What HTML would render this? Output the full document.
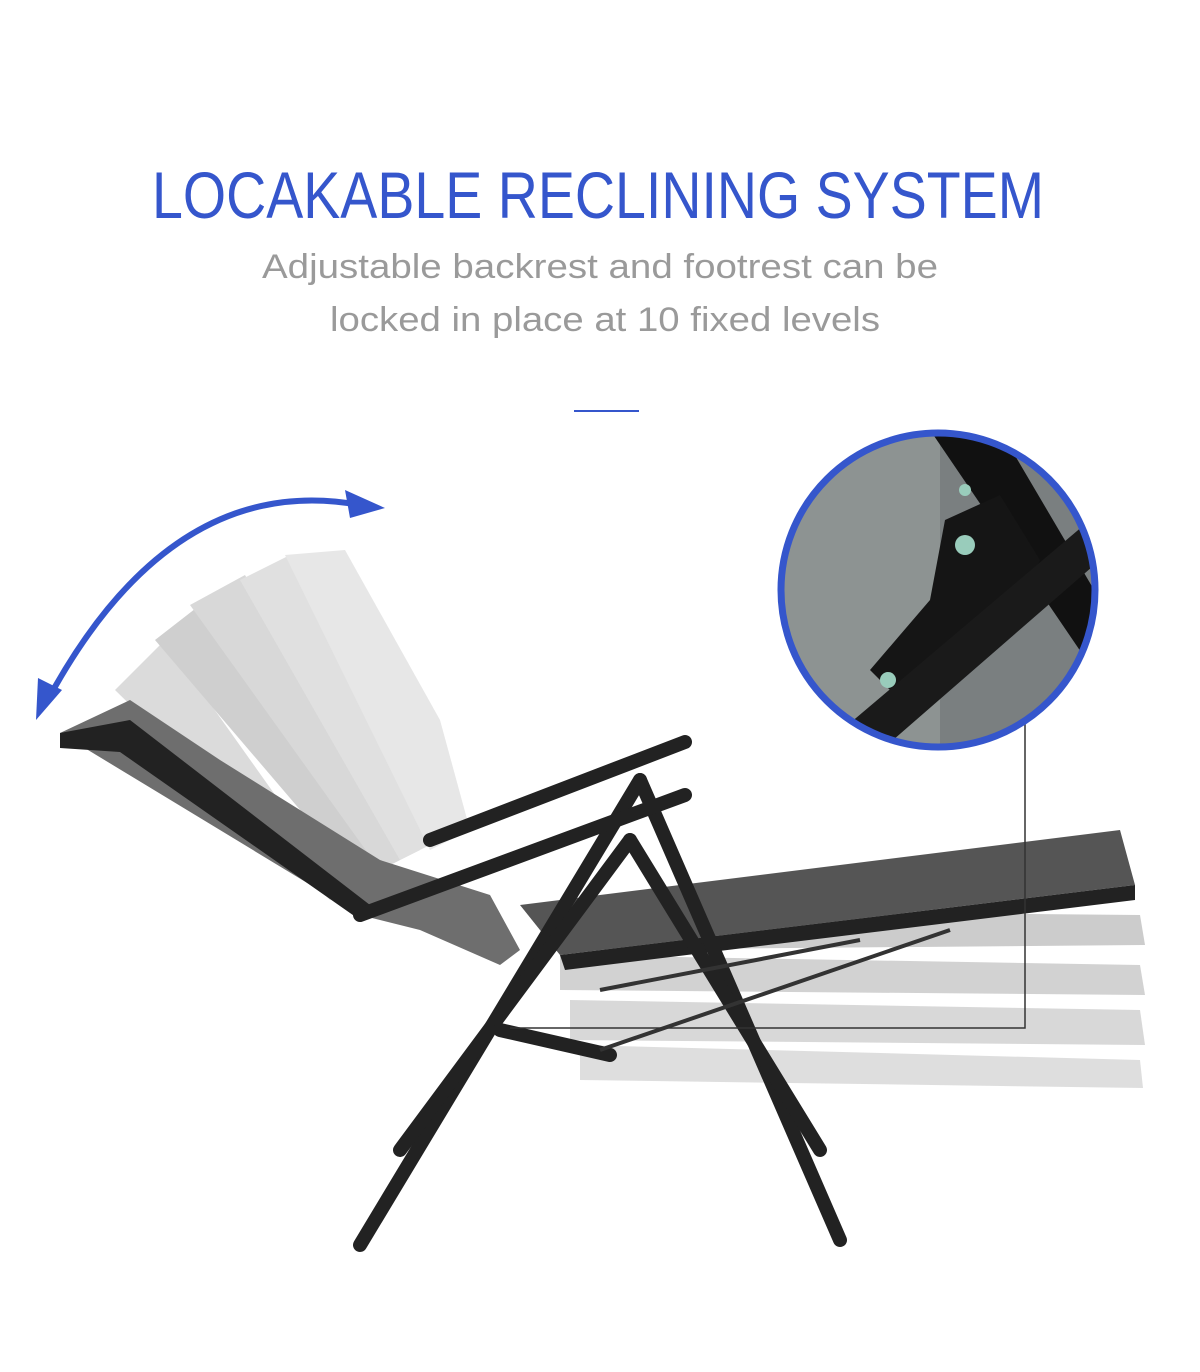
<!DOCTYPE html>
<html><head><meta charset="utf-8"><style>
html,body{margin:0;padding:0;background:#fff;}
svg{display:block;}
</style></head><body>
<svg width="1200" height="1372" viewBox="0 0 1200 1372" xmlns="http://www.w3.org/2000/svg">
<rect width="1200" height="1372" fill="#fff"/>
<text x="598" y="218" text-anchor="middle" font-family="Liberation Sans, sans-serif" font-size="66" fill="#3556cc" textLength="892" lengthAdjust="spacingAndGlyphs">LOCAKABLE RECLINING SYSTEM</text>
<text x="600" y="278" text-anchor="middle" font-family="Liberation Sans, sans-serif" font-size="34" fill="#9a9a9a" textLength="676" lengthAdjust="spacingAndGlyphs">Adjustable backrest and footrest can be</text>
<text x="605" y="331" text-anchor="middle" font-family="Liberation Sans, sans-serif" font-size="34" fill="#9a9a9a" textLength="550" lengthAdjust="spacingAndGlyphs">locked in place at 10 fixed levels</text>
<rect x="574" y="410" width="65" height="2" fill="#3556cc"/>

<!-- arrow -->
<path d="M45,705 Q170,470 360,505" fill="none" stroke="#3556cc" stroke-width="6"/>
<polygon points="385,508 345,490 350,518" fill="#3556cc"/>
<polygon points="36,720 38,678 62,690" fill="#3556cc"/>

<!-- ghost backrests -->
<g fill="#ccc" opacity="0.7">
<path d="M115,690 L165,640 L300,830 L370,870 L330,900 Z"/>
<path d="M155,640 L200,605 L330,800 L400,860 L360,880 Z" fill="#bbb"/>
<path d="M190,605 L245,575 L360,780 L420,850 L380,870 Z" fill="#c8c8c8"/>
<path d="M240,580 L290,555 L400,760 L440,840 L400,860 Z" fill="#d4d4d4"/>
<path d="M285,555 L345,550 L440,720 L470,830 L430,850 Z" fill="#ddd"/>
</g>
<!-- footrest ghosts -->
<g fill="#bbb" opacity="0.75">
<path d="M560,910 L1140,915 L1145,945 L560,950 Z"/>
<path d="M560,955 L1140,965 L1145,995 L560,990 Z" fill="#c4c4c4"/>
<path d="M570,1000 L1140,1010 L1145,1045 L570,1040 Z" fill="#ccc"/>
<path d="M580,1045 L1140,1060 L1143,1088 L580,1080 Z" fill="#d4d4d4"/>
</g>

<!-- main seat/back -->
<path d="M60,733 L130,700 L220,760 L380,860 L490,895 L520,950 L500,965 L420,930 L360,915 Z" fill="#6e6e6e"/>
<path d="M60,733 L60,748 L120,752 L360,920 L370,905 L130,720 Z" fill="#222"/>
<!-- footrest -->
<path d="M520,905 L1120,830 L1135,885 L560,955 Z" fill="#555"/>
<path d="M560,955 L1135,885 L1135,900 L565,970 Z" fill="#222"/>

<!-- frame -->
<g stroke="#222" stroke-width="14" stroke-linecap="round" fill="none">
<line x1="360" y1="1245" x2="640" y2="780"/>
<line x1="640" y1="780" x2="840" y2="1240"/>
<line x1="400" y1="1150" x2="630" y2="840"/>
<line x1="630" y1="840" x2="820" y2="1150"/>
<line x1="360" y1="915" x2="685" y2="795"/>
<line x1="430" y1="840" x2="685" y2="742"/>
<line x1="500" y1="1030" x2="610" y2="1055"/>
</g>
<line x1="600" y1="1050" x2="950" y2="930" stroke="#333" stroke-width="4"/>
<line x1="600" y1="990" x2="860" y2="940" stroke="#333" stroke-width="4"/>

<!-- callout lines -->
<polyline points="1025,720 1025,1028 510,1028" fill="none" stroke="#333" stroke-width="1.5"/>

<!-- detail circle -->
<defs><clipPath id="c"><circle cx="938" cy="590" r="157"/></clipPath></defs>
<g clip-path="url(#c)">
<rect x="780" y="430" width="320" height="320" fill="#7a7f80"/>
<rect x="780" y="430" width="160" height="320" fill="#8d9392"/>
<path d="M930,430 L1000,430 L1100,600 L1100,680 Z" fill="#111"/>
<path d="M945,520 L1000,495 L1040,560 L1000,640 L900,700 L870,670 L930,600 Z" fill="#151515"/>
<path d="M830,740 L1090,520 L1100,560 L870,760 Z" fill="#1a1a1a"/>
<circle cx="965" cy="545" r="10" fill="#9cb"/>
<circle cx="888" cy="680" r="8" fill="#9cb"/>
<circle cx="965" cy="490" r="6" fill="#9cb"/>
</g>
<circle cx="938" cy="590" r="157" fill="none" stroke="#3556cc" stroke-width="7"/>
</svg>
</body></html>
